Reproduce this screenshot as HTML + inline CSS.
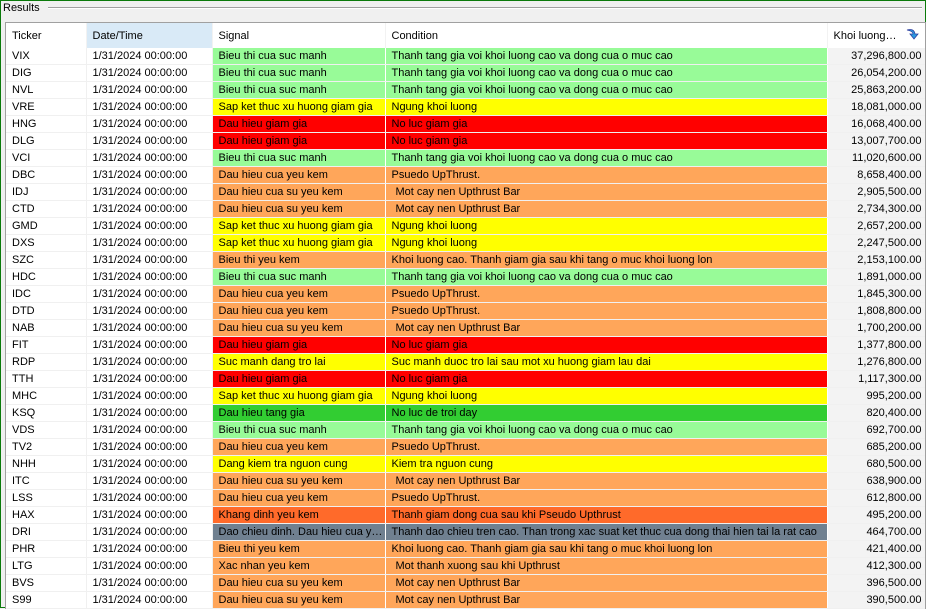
<!DOCTYPE html>
<html><head><meta charset="utf-8">
<style>
html,body{margin:0;padding:0;}
body{width:926px;height:608px;overflow:hidden;background:#f0f0f0;font-family:"Liberation Sans",sans-serif;font-size:11px;color:#000;position:relative;}
#frame{position:absolute;left:0;top:0;width:924px;height:606px;border:1px solid #0a7a0a;}
#title{position:absolute;left:3px;top:1px;font-size:11px;line-height:14px;}
#rule{position:absolute;left:48px;right:4px;top:7px;height:0;border-top:1px solid #a0a0a0;border-bottom:1px solid #fff;}
#grid{position:absolute;left:5px;top:22px;width:919px;height:586px;background:#fff;border:1px solid #a0a0a0;border-bottom:none;overflow:hidden;}
table{border-collapse:collapse;table-layout:fixed;width:919px;}
th{height:25px;font-weight:normal;text-align:left;padding:0 0 0 6px;background:#fff;border-right:1px solid #f2f2f2;white-space:nowrap;}
th.sel{background:#d9eaf7;}
td{height:16px;padding:0 0 0 6px;border-bottom:1px solid #f0f0f0;border-right:1px solid #f0f0f0;white-space:nowrap;overflow:hidden;text-overflow:ellipsis;line-height:16px;}
td.num{text-align:right;padding:0 3px 0 0;background:#f3f3f3;}
.icon{position:absolute;right:6px;top:4px;width:14px;height:14px;}
</style></head>
<body>
<div id="frame"></div>
<div id="title">Results</div>
<div id="rule"></div>
<div id="grid">
<table id="tbl">
<colgroup><col style="width:80px"><col style="width:126px"><col style="width:173px"><col style="width:442px"><col style="width:98px"></colgroup>
<thead><tr>
<th>Ticker</th>
<th class="sel">Date/Time</th>
<th>Signal</th>
<th>Condition</th>
<th style="position:relative">Khoi luong…<svg class="icon" viewBox="0 0 14 14"><path d="M2 3 Q9 1 10 7 L13 7 L9 12 L5 7 L8 7 Q8 4 2 3Z" fill="#2a9be0" stroke="#3040a0" stroke-width="0.8"/></svg></th>
</tr></thead>
<tbody id="body"></tbody>
</table>
</div>
<script>
const tickers=["VIX","DIG","NVL","VRE","HNG","DLG","VCI","DBC","IDJ","CTD","GMD","DXS","SZC","HDC","IDC","DTD","NAB","FIT","RDP","TTH","MHC","KSQ","VDS","TV2","NHH","ITC","LSS","HAX","DRI","PHR","LTG","BVS","S99"];
const signals=["Bieu thi cua suc manh","Bieu thi cua suc manh","Bieu thi cua suc manh","Sap ket thuc xu huong giam gia","Dau hieu giam gia","Dau hieu giam gia","Bieu thi cua suc manh","Dau hieu cua yeu kem","Dau hieu cua su yeu kem","Dau hieu cua su yeu kem","Sap ket thuc xu huong giam gia","Sap ket thuc xu huong giam gia","Bieu thi yeu kem","Bieu thi cua suc manh","Dau hieu cua yeu kem","Dau hieu cua yeu kem","Dau hieu cua su yeu kem","Dau hieu giam gia","Suc manh dang tro lai","Dau hieu giam gia","Sap ket thuc xu huong giam gia","Dau hieu tang gia","Bieu thi cua suc manh","Dau hieu cua yeu kem","Dang kiem tra nguon cung","Dau hieu cua su yeu kem","Dau hieu cua yeu kem","Khang dinh yeu kem","Dao chieu dinh. Dau hieu cua yeu kem","Bieu thi yeu kem","Xac nhan yeu kem","Dau hieu cua su yeu kem","Dau hieu cua su yeu kem"];
const conditions=["Thanh tang gia voi khoi luong cao va dong cua o muc cao","Thanh tang gia voi khoi luong cao va dong cua o muc cao","Thanh tang gia voi khoi luong cao va dong cua o muc cao","Ngung khoi luong","No luc giam gia","No luc giam gia","Thanh tang gia voi khoi luong cao va dong cua o muc cao","Psuedo UpThrust."," Mot cay nen Upthrust Bar"," Mot cay nen Upthrust Bar","Ngung khoi luong","Ngung khoi luong","Khoi luong cao. Thanh giam gia sau khi tang o muc khoi luong lon","Thanh tang gia voi khoi luong cao va dong cua o muc cao","Psuedo UpThrust.","Psuedo UpThrust."," Mot cay nen Upthrust Bar","No luc giam gia","Suc manh duoc tro lai sau mot xu huong giam lau dai","No luc giam gia","Ngung khoi luong","No luc de troi day","Thanh tang gia voi khoi luong cao va dong cua o muc cao","Psuedo UpThrust.","Kiem tra nguon cung"," Mot cay nen Upthrust Bar","Psuedo UpThrust.","Thanh giam dong cua sau khi Pseudo Upthrust","Thanh dao chieu tren cao. Than trong xac suat ket thuc cua dong thai hien tai la rat cao","Khoi luong cao. Thanh giam gia sau khi tang o muc khoi luong lon"," Mot thanh xuong sau khi Upthrust"," Mot cay nen Upthrust Bar"," Mot cay nen Upthrust Bar"];
const volumes=[37296800,26054200,25863200,18081000,16068400,13007700,11020600,8658400,2905500,2734300,2657200,2247500,2153100,1891000,1845300,1808800,1700200,1377800,1276800,1117300,995200,820400,692700,685200,680500,638900,612800,495200,464700,421400,412300,396500,390500];
const colorKeys=["lg","lg","lg","y","r","r","lg","o","o","o","y","y","o","lg","o","o","o","r","y","r","y","g","lg","o","y","o","o","do","s","o","o","o","o"];
const palette={lg:"#98fb98",y:"#ffff00",r:"#ff0000",o:"#ffa65a",g:"#32cd32",do:"#ff6a2a",s:"#708090"};
const body=document.getElementById('body');
for(let i=0;i<tickers.length;i++){
  const tr=document.createElement('tr');
  
  
  const c=palette[colorKeys[i]];
  const vals=[tickers[i],"1/31/2024 00:00:00",signals[i],conditions[i],volumes[i].toLocaleString('en-US',{minimumFractionDigits:2,maximumFractionDigits:2})];
  const names=['ticker-cell','datetime-cell','signal-cell','condition-cell','volume-cell'];
  for(let j=0;j<5;j++){
    const td=document.createElement('td');
    
    
    td.textContent=vals[j];
    if(j==2||j==3){td.style.background=c;td.style.borderRight='1px solid #fff';}
    if(j==4)td.className='num';
    if(j==3&&vals[j].startsWith(' '))td.style.paddingLeft='10px';
    tr.appendChild(td);
  }
  body.appendChild(tr);
}
</script>
</body></html>
